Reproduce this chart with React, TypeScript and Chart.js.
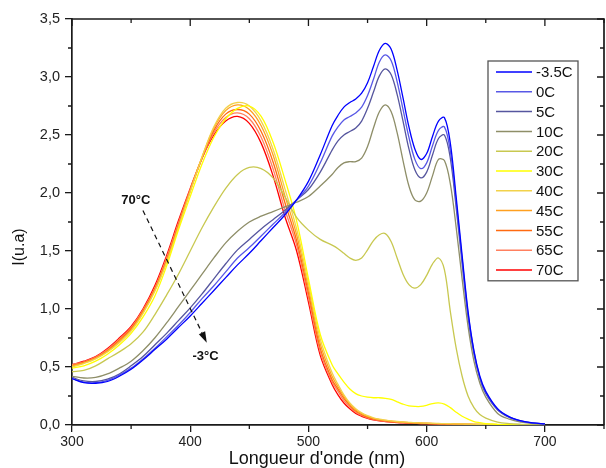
import React, { useEffect, useRef } from 'react';
import { Chart, registerables } from 'chart.js';

Chart.register(...registerables);

// Wavelength grid (nm)
const wavelengths = [
  300, 310, 320, 330, 340, 350, 360, 370, 380, 390, 400, 410, 420, 430, 440, 450, 460, 470, 480, 490, 500, 510, 520,
  525, 530, 535, 540, 545, 550, 555, 560, 565, 570, 575, 580, 585, 590, 595, 600, 605, 610, 615, 620, 625, 630, 635, 640, 645, 650,
  660, 670, 680, 690, 700,
];

const seriesLabels = ['-3.5C', '0C', '5C', '10C', '20C', '30C', '40C', '45C', '55C', '65C', '70C'];
const seriesColors = ['#0000ff', '#5858e6', '#56569e', '#8e8e68', '#c8c850', '#ffff00', '#f2d24a', '#ffa020', '#ff6a10', '#ff8060', '#ff0000'];

const tM35 = [
  0.40, 0.365, 0.36, 0.375, 0.42, 0.48, 0.56, 0.65, 0.74, 0.84, 0.94, 1.05, 1.16, 1.27, 1.38, 1.48, 1.59, 1.70, 1.81, 1.94, 2.10, 2.33, 2.58,
  2.67, 2.74, 2.78, 2.81, 2.86, 2.95, 3.09, 3.23, 3.29, 3.24, 3.06, 2.82, 2.57, 2.38, 2.29, 2.34, 2.49, 2.62, 2.65, 2.43, 1.96, 1.46, 0.98, 0.64, 0.42, 0.29,
  0.14, 0.07, 0.035, 0.018, 0.01,
];
const t0 = [
  0.40, 0.37, 0.365, 0.385, 0.43, 0.49, 0.57, 0.66, 0.76, 0.86, 0.97, 1.09, 1.20, 1.32, 1.44, 1.53, 1.63, 1.73, 1.83, 1.94, 2.06, 2.26, 2.49,
  2.57, 2.63, 2.66, 2.69, 2.74, 2.84, 2.98, 3.13, 3.19, 3.14, 2.96, 2.72, 2.48, 2.29, 2.21, 2.26, 2.41, 2.54, 2.57, 2.36, 1.92, 1.43, 0.96, 0.63, 0.41, 0.28,
  0.135, 0.068, 0.034, 0.017, 0.01,
];
const t5 = [
  0.41, 0.38, 0.375, 0.395, 0.44, 0.51, 0.59, 0.69, 0.79, 0.90, 1.01, 1.13, 1.26, 1.39, 1.51, 1.60, 1.69, 1.77, 1.85, 1.94, 2.03, 2.18, 2.37,
  2.45, 2.50, 2.53, 2.56, 2.62, 2.73, 2.87, 3.01, 3.07, 3.02, 2.85, 2.62, 2.38, 2.20, 2.13, 2.18, 2.33, 2.47, 2.50, 2.30, 1.87, 1.39, 0.93, 0.61, 0.40, 0.27,
  0.13, 0.065, 0.033, 0.016, 0.01,
];
const t10 = [
  0.42, 0.405, 0.41, 0.44, 0.49, 0.55, 0.64, 0.75, 0.88, 1.02, 1.16, 1.30, 1.44, 1.57, 1.67, 1.75, 1.80, 1.84, 1.88, 1.92, 1.97, 2.06, 2.16,
  2.22, 2.26, 2.27, 2.27, 2.30, 2.40, 2.56, 2.70, 2.76, 2.70, 2.52, 2.28, 2.06, 1.94, 1.93, 2.00, 2.15, 2.29, 2.28, 2.08, 1.70, 1.26, 0.85, 0.55, 0.36, 0.24,
  0.10, 0.05, 0.025, 0.012, 0.008,
];
const t20 = [
  0.46, 0.47, 0.51, 0.57, 0.63, 0.70, 0.80, 0.95, 1.12, 1.30, 1.50, 1.70, 1.88, 2.04, 2.16, 2.22, 2.21, 2.13, 1.97, 1.79, 1.68, 1.60, 1.55,
  1.52, 1.48, 1.44, 1.42, 1.44, 1.51, 1.59, 1.64, 1.65, 1.58, 1.44, 1.30, 1.21, 1.18, 1.21, 1.29, 1.39, 1.44, 1.34, 0.98, 0.66, 0.42, 0.25, 0.15, 0.09, 0.06,
  0.025, 0.012, 0.006, 0.003, 0.002,
];
const t30 = [
  0.49, 0.51, 0.55, 0.61, 0.69, 0.79, 0.93, 1.11, 1.37, 1.68, 1.97, 2.25, 2.48, 2.64, 2.73, 2.75, 2.66, 2.44, 2.12, 1.76, 1.26, 0.78, 0.52,
  0.44, 0.37, 0.31, 0.27, 0.25, 0.24, 0.235, 0.235, 0.23, 0.22, 0.20, 0.18, 0.165, 0.16, 0.16, 0.17, 0.185, 0.19, 0.18, 0.15, 0.11, 0.075, 0.05, 0.03, 0.02, 0.012,
  0.006, 0.003, 0.002, 0.001, 0.001,
];
const t40 = [
  0.50, 0.53, 0.57, 0.63, 0.71, 0.81, 0.96, 1.15, 1.40, 1.70, 2.01, 2.31, 2.57, 2.73, 2.78, 2.75, 2.62, 2.38, 2.04, 1.69, 1.22, 0.74, 0.45,
  0.35, 0.26, 0.19, 0.14, 0.105, 0.08, 0.062, 0.05, 0.042, 0.035, 0.03, 0.026, 0.023, 0.02, 0.018, 0.016, 0.014, 0.013, 0.012, 0.011, 0.01, 0.009, 0.008, 0.007, 0.006, 0.005,
  0.004, 0.003, 0.002, 0.002, 0.001,
];
const t45 = [
  0.51, 0.535, 0.575, 0.635, 0.72, 0.82, 0.97, 1.16, 1.41, 1.71, 2.02, 2.31, 2.56, 2.71, 2.76, 2.72, 2.58, 2.33, 1.98, 1.64, 1.18, 0.70, 0.42,
  0.33, 0.245, 0.18, 0.13, 0.098, 0.075, 0.058, 0.047, 0.039, 0.033, 0.028, 0.024, 0.021, 0.019, 0.017, 0.015, 0.013, 0.012, 0.011, 0.01, 0.009, 0.008, 0.007, 0.006, 0.005, 0.005,
  0.004, 0.003, 0.002, 0.002, 0.001,
];
const t55 = [
  0.51, 0.54, 0.58, 0.64, 0.73, 0.83, 0.98, 1.17, 1.42, 1.72, 2.02, 2.30, 2.54, 2.68, 2.72, 2.68, 2.53, 2.27, 1.92, 1.59, 1.14, 0.66, 0.39,
  0.31, 0.23, 0.17, 0.12, 0.09, 0.068, 0.053, 0.043, 0.036, 0.03, 0.026, 0.022, 0.019, 0.017, 0.015, 0.014, 0.012, 0.011, 0.01, 0.009, 0.008, 0.007, 0.006, 0.005, 0.005, 0.004,
  0.003, 0.002, 0.002, 0.001, 0.001,
];
const t65 = [
  0.52, 0.545, 0.585, 0.65, 0.74, 0.84, 0.99, 1.18, 1.44, 1.74, 2.03, 2.30, 2.52, 2.65, 2.69, 2.64, 2.48, 2.21, 1.86, 1.55, 1.10, 0.63, 0.37,
  0.29, 0.21, 0.155, 0.11, 0.082, 0.062, 0.049, 0.039, 0.032, 0.027, 0.023, 0.02, 0.017, 0.015, 0.013, 0.012, 0.011, 0.01, 0.009, 0.008, 0.007, 0.006, 0.005, 0.004, 0.004, 0.003,
  0.002, 0.002, 0.001, 0.001, 0.001,
];
const t70 = [
  0.52, 0.55, 0.59, 0.66, 0.75, 0.85, 1.00, 1.20, 1.46, 1.76, 2.04, 2.30, 2.50, 2.62, 2.66, 2.60, 2.43, 2.15, 1.80, 1.50, 1.06, 0.60, 0.35,
  0.26, 0.19, 0.14, 0.10, 0.075, 0.057, 0.045, 0.036, 0.03, 0.025, 0.021, 0.018, 0.016, 0.014, 0.012, 0.011, 0.01, 0.009, 0.008, 0.007, 0.006, 0.005, 0.004, 0.004, 0.003, 0.003,
  0.002, 0.002, 0.001, 0.001, 0.001,
];

const seriesValues = [tM35, t0, t5, t10, t20, t30, t40, t45, t55, t65, t70];

const xMajorTicks = [300, 400, 500, 600, 700];
const xMinorTicks = [350, 450, 550, 650, 750];
const yMajorTicks = [0, 0.5, 1, 1.5, 2, 2.5, 3, 3.5];
const yMinorTicks = [0.25, 0.75, 1.25, 1.75, 2.25, 2.75, 3.25];

const xTitle = "Longueur d'onde (nm)";
const yTitle = 'I(u.a)';
const arrowStartLabel = '70°C';
const arrowEndLabel = '-3°C';
// annotation anchor points in data units [nm, I]
const arrowStartLabelPos = [354, 1.94];
const arrowFrom = [360, 1.85];
const arrowTo = [414, 0.71];
const arrowEndLabelPos = [413, 0.59];

const FONT = "'Liberation Sans', Arial, sans-serif";
const AXIS = '#1a1a1a';

const decorPlugin = {
  id: 'decor',
  afterDraw(chart: any) {
    const { ctx, chartArea: a, scales } = chart;
    const x = scales.x;
    const y = scales.y;
    ctx.save();
    ctx.strokeStyle = AXIS;
    ctx.lineWidth = 1.7;
    // top & right frame
    ctx.beginPath();
    ctx.moveTo(a.left, a.top);
    ctx.lineTo(a.right, a.top);
    ctx.lineTo(a.right, a.bottom);
    ctx.stroke();

    ctx.lineWidth = 1.3;
    ctx.beginPath();
    // top inward ticks
    for (const v of xMajorTicks) {
      const px = x.getPixelForValue(v);
      ctx.moveTo(px, a.top);
      ctx.lineTo(px, a.top + 7);
    }
    for (const v of xMinorTicks) {
      const px = x.getPixelForValue(v);
      ctx.moveTo(px, a.top);
      ctx.lineTo(px, a.top + 4);
      // bottom minor outward
      ctx.moveTo(px, a.bottom);
      ctx.lineTo(px, a.bottom + 4);
    }
    // right inward ticks
    for (const v of yMajorTicks) {
      const py = y.getPixelForValue(v);
      ctx.moveTo(a.right, py);
      ctx.lineTo(a.right - 7, py);
    }
    for (const v of yMinorTicks) {
      const py = y.getPixelForValue(v);
      ctx.moveTo(a.right, py);
      ctx.lineTo(a.right - 4, py);
      // left minor outward
      ctx.moveTo(a.left, py);
      ctx.lineTo(a.left - 4, py);
    }
    ctx.stroke();

    // axis titles
    ctx.fillStyle = '#111';
    ctx.font = `18px ${FONT}`;
    ctx.textAlign = 'center';
    ctx.textBaseline = 'alphabetic';
    ctx.fillText(xTitle, a.left + 245, a.bottom + 39);
    ctx.save();
    ctx.translate(24, a.top + 228);
    ctx.rotate(-Math.PI / 2);
    ctx.font = `16px ${FONT}`;
    ctx.fillText(yTitle, 0, 0);
    ctx.restore();

    // dashed arrow annotation
    const x0 = x.getPixelForValue(arrowFrom[0]);
    const y0 = y.getPixelForValue(arrowFrom[1]);
    const x1 = x.getPixelForValue(arrowTo[0]);
    const y1 = y.getPixelForValue(arrowTo[1]);
    const ang = Math.atan2(y1 - y0, x1 - x0);
    const headLen = 11;
    const hx = x1 - headLen * Math.cos(ang);
    const hy = y1 - headLen * Math.sin(ang);
    ctx.strokeStyle = '#111';
    ctx.lineWidth = 1.2;
    ctx.setLineDash([5, 4]);
    ctx.beginPath();
    ctx.moveTo(x0, y0);
    ctx.lineTo(hx, hy);
    ctx.stroke();
    ctx.setLineDash([]);
    ctx.fillStyle = '#111';
    ctx.beginPath();
    ctx.moveTo(x1, y1);
    ctx.lineTo(hx + 3.5 * Math.sin(ang), hy - 3.5 * Math.cos(ang));
    ctx.lineTo(hx - 3.5 * Math.sin(ang), hy + 3.5 * Math.cos(ang));
    ctx.closePath();
    ctx.fill();

    ctx.font = `bold 13px ${FONT}`;
    ctx.textAlign = 'center';
    ctx.textBaseline = 'middle';
    ctx.fillText(arrowStartLabel, x.getPixelForValue(arrowStartLabelPos[0]), y.getPixelForValue(arrowStartLabelPos[1]));
    ctx.fillText(arrowEndLabel, x.getPixelForValue(arrowEndLabelPos[0]), y.getPixelForValue(arrowEndLabelPos[1]));

    // legend box
    const bx = a.right - 116;
    const by = a.top + 42;
    const bw = 90;
    const rowH = 19.8;
    const bh = rowH * chart.data.datasets.length + 2;
    ctx.fillStyle = '#fff';
    ctx.fillRect(bx, by, bw, bh);
    ctx.strokeStyle = '#555';
    ctx.lineWidth = 1.3;
    ctx.strokeRect(bx, by, bw, bh);
    ctx.font = `15px ${FONT}`;
    ctx.textAlign = 'left';
    ctx.textBaseline = 'middle';
    chart.data.datasets.forEach((ds: any, i: number) => {
      const cy = by + 11 + i * rowH;
      ctx.strokeStyle = ds.borderColor;
      ctx.lineWidth = 1.5;
      ctx.beginPath();
      ctx.moveTo(bx + 8, cy);
      ctx.lineTo(bx + 44, cy);
      ctx.stroke();
      ctx.fillStyle = '#111';
      ctx.fillText(ds.label, bx + 48, cy + 1);
    });
    ctx.restore();
  },
};

export default function App() {
  const ref = useRef<HTMLCanvasElement>(null);
  useEffect(() => {
    if (!ref.current) return;
    const datasets = seriesLabels.map((label, i) => ({
      label,
      data: wavelengths.map((w, j) => ({ x: w, y: seriesValues[i][j] })),
      borderColor: seriesColors[i],
      backgroundColor: seriesColors[i],
      borderWidth: 1.3,
      pointRadius: 0,
      fill: false,
      tension: 0.35,
    }));
    const chart = new Chart(ref.current, {
      type: 'line',
      data: { datasets },
      options: {
        animation: false,
        responsive: false,
        layout: { padding: { top: 19, right: 2, left: 0, bottom: 0 } },
        plugins: { legend: { display: false }, tooltip: { enabled: false } },
        scales: {
          x: {
            type: 'linear',
            min: 300,
            max: 750,
            afterBuildTicks: (s: any) => {
              s.ticks = xMajorTicks.map((v) => ({ value: v }));
            },
            afterFit: (s: any) => {
              s.height = 43;
            },
            ticks: { color: '#222', font: { family: FONT, size: 14 }, padding: 2, maxRotation: 0 },
            grid: { display: true, drawOnChartArea: false, tickLength: 7, color: AXIS, lineWidth: 1.3 },
            border: { display: true, color: AXIS, width: 1.7 },
          },
          y: {
            type: 'linear',
            min: 0,
            max: 3.5,
            afterBuildTicks: (s: any) => {
              s.ticks = yMajorTicks.map((v) => ({ value: v }));
            },
            afterFit: (s: any) => {
              s.width = 72;
            },
            ticks: {
              color: '#222',
              font: { family: FONT, size: 14.5 },
              padding: 5,
              callback: (v: any) => Number(v).toFixed(1).replace('.', ','),
            },
            grid: { display: true, drawOnChartArea: false, tickLength: 7, color: AXIS, lineWidth: 1.3 },
            border: { display: true, color: AXIS, width: 1.7 },
          },
        },
      },
      plugins: [decorPlugin],
    });
    return () => chart.destroy();
  }, []);
  return (
    <div style={{ position: 'absolute', left: 0, top: 0, width: 606, height: 468, background: '#fff' }}>
      <canvas ref={ref} width={606} height={468} style={{ display: 'block' }} />
    </div>
  );
}
